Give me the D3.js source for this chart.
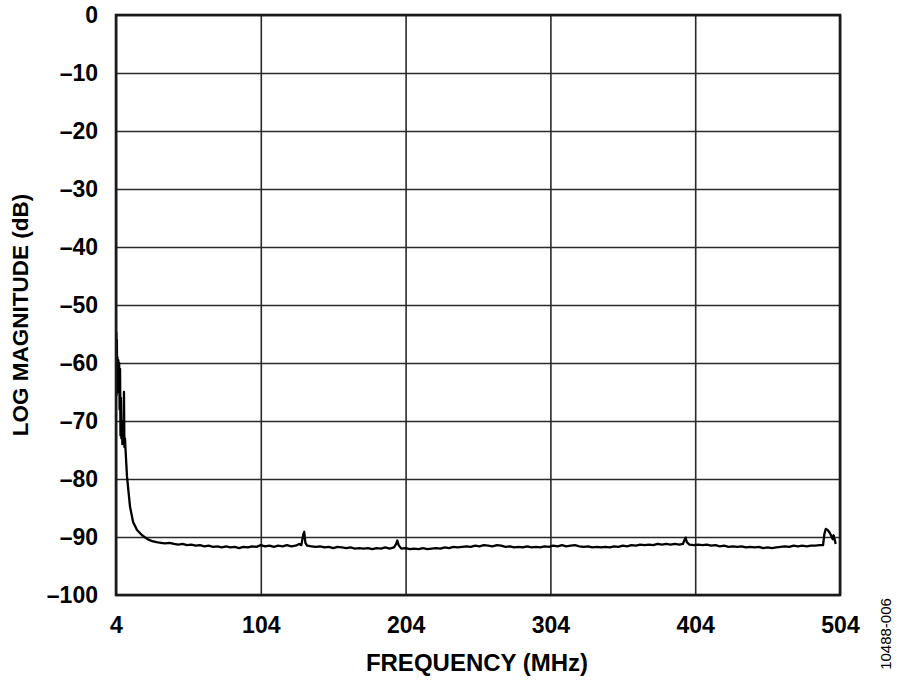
<!DOCTYPE html>
<html>
<head>
<meta charset="utf-8">
<script src="https://cdn.jsdelivr.net/npm/d3@7"></script>
<style>
  html, body { margin: 0; padding: 0; background: #fff; }
  svg text { font-family: "Liberation Sans", Arial, sans-serif; }
</style>
</head>
<body>
<svg id="chart" width="900" height="681"></svg>
<script>
// ---- data ----
const xTicks = [4, 104, 204, 304, 404, 504];
const yTicks = [0, -10, -20, -30, -40, -50, -60, -70, -80, -90, -100];

const freqMHz = [
  4.2, 4.4, 4.6, 4.8, 5.0, 5.3, 5.6, 5.9, 6.2, 6.5, 6.8, 7.1, 7.4, 7.7, 8.0, 8.4, 8.8, 9.2, 9.5, 9.8, 10.2, 10.6,
  11.6, 13.7, 15.8, 18.5, 22, 26, 29,
  32, 35, 38, 41, 44, 47, 50, 53, 56, 59, 62, 65, 68, 71, 74, 77, 80, 83, 86, 89, 92, 95, 98, 101,
  104, 107, 110, 113, 116, 119, 122, 125, 128, 130.5, 132, 133.3, 134, 134.8, 136, 139, 142, 145, 148,
  151, 154, 157, 160, 163, 166, 169, 172, 175, 178, 181, 184, 187, 190, 193, 196, 197.5, 198.3, 199.2,
  201, 204, 207, 210, 213, 216, 219, 222, 225, 228, 231, 234, 237, 240, 243, 246, 249, 252, 255, 258,
  261, 264, 267, 270, 273, 276, 279, 282, 285, 288, 291, 294, 297, 300, 303, 306, 309, 312, 315, 318,
  321, 324, 327, 330, 333, 336, 339, 342, 345, 348, 351, 354, 357, 360, 363, 366, 369, 372, 375, 378,
  381, 384, 387, 390, 393, 395.5, 396.6, 397.4, 398.2, 400, 403, 406, 409, 412, 415, 418, 421, 424, 427,
  430, 433, 436, 439, 442, 445, 448, 451, 454, 457, 460, 463, 466, 469, 472, 475, 478, 481, 484, 487,
  490, 492.3, 493.2, 494.2, 495.5, 497, 498.3, 499, 499.6, 500.2, 501
];

const magDb = [
  -54.6, -65.5, -56, -64, -59, -65, -59.5, -63, -60, -68, -61, -72.5, -66, -73, -70, -74, -71, -73.5, -65, -74.5, -73, -75,
  -79.6, -84.8, -87.4, -88.8, -89.7, -90.4, -90.7,
  -90.9, -91.0, -91.1, -91.0, -91.2, -91.3, -91.2, -91.4, -91.3, -91.5, -91.4, -91.6, -91.5, -91.7, -91.6, -91.8, -91.6, -91.8, -91.7, -91.9, -91.7, -91.8, -91.6, -91.7,
  -91.4, -91.6, -91.5, -91.7, -91.5, -91.6, -91.4, -91.6, -91.5, -91.2, -91.4, -89.6, -89.1, -91.0, -91.5, -91.6, -91.7, -91.6, -91.8,
  -91.7, -91.9, -91.7, -91.8, -91.9, -91.8, -92.0, -91.9, -92.0, -91.9, -92.1, -91.9, -92.0, -91.8, -92.0, -91.8, -91.2, -90.6, -91.4,
  -92.0, -91.9, -92.1, -92.0, -92.1, -91.9, -92.1, -92.0, -91.9, -92.0, -91.8, -91.9, -91.7, -91.8, -91.7, -91.6, -91.7, -91.5, -91.6, -91.4,
  -91.5, -91.6, -91.4, -91.5, -91.7, -91.6, -91.8, -91.7, -91.8, -91.6, -91.8, -91.7, -91.8, -91.6, -91.7, -91.5, -91.6, -91.4, -91.6, -91.5,
  -91.4, -91.6, -91.7, -91.6, -91.8, -91.7, -91.8, -91.7, -91.8, -91.6, -91.7, -91.5, -91.6, -91.4, -91.5, -91.3, -91.4, -91.3, -91.4, -91.2,
  -91.3, -91.2, -91.3, -91.2, -91.3, -91.2, -90.5, -90.1, -90.9, -91.3, -91.4, -91.3, -91.4, -91.3, -91.5, -91.4, -91.6, -91.5, -91.7,
  -91.6, -91.7, -91.6, -91.8, -91.7, -91.8, -91.7, -91.9, -91.8, -91.9, -91.8, -91.7, -91.6, -91.7, -91.5, -91.6, -91.5, -91.6, -91.5, -91.5,
  -91.4, -91.4, -89.5, -88.6, -88.8, -89.3, -90.0, -90.4, -89.7, -90.3, -91.2
];

const xLabel = "FREQUENCY (MHz)";
const yLabel = "LOG MAGNITUDE (dB)";
const figureId = "10488-006";

// ---- layout ----
const svg = d3.select("#chart");
const L = 116, R = 840, T = 15, B = 595;

const x = d3.scaleLinear().domain([4, 504]).range([L, R]);
const y = d3.scaleLinear().domain([-100, 0]).range([B, T]);

const fmtY = d => d === 0 ? "0" : "\u2013" + Math.abs(d);

// gridlines
svg.append("g")
  .attr("transform", `translate(${L},0)`)
  .call(d3.axisLeft(y).tickValues(yTicks).tickSize(-(R - L)).tickFormat(""))
  .call(g => g.select(".domain").remove())
  .call(g => g.selectAll("line").attr("stroke", "#2a2a2a").attr("stroke-width", 1.6));

svg.append("g")
  .attr("transform", `translate(0,${B})`)
  .call(d3.axisBottom(x).tickValues(xTicks).tickSize(-(B - T)).tickFormat(""))
  .call(g => g.select(".domain").remove())
  .call(g => g.selectAll("line").attr("stroke", "#2a2a2a").attr("stroke-width", 1.6));

// tick labels via axes
svg.append("g")
  .attr("transform", `translate(${L},0)`)
  .call(d3.axisLeft(y).tickValues(yTicks).tickSize(0).tickPadding(18).tickFormat(fmtY))
  .call(g => g.select(".domain").remove())
  .call(g => g.selectAll("text")
    .attr("font-size", 23).attr("font-weight", "bold").attr("fill", "#000")
    .attr("font-family", "Liberation Sans, Arial, sans-serif"));

svg.append("g")
  .attr("transform", `translate(0,${B})`)
  .call(d3.axisBottom(x).tickValues(xTicks).tickSize(0).tickPadding(22).tickFormat(d3.format("d")))
  .call(g => g.select(".domain").remove())
  .call(g => g.selectAll("text")
    .attr("font-size", 23).attr("font-weight", "bold").attr("fill", "#000")
    .attr("font-family", "Liberation Sans, Arial, sans-serif"));

// trace
const pts = freqMHz.map((f, i) => [f, magDb[i]]);
svg.append("path")
  .datum(pts)
  .attr("fill", "none")
  .attr("stroke", "#000")
  .attr("stroke-width", 2.3)
  .attr("stroke-linejoin", "round")
  .attr("d", d3.line().x(d => x(d[0])).y(d => y(d[1])));

// frame
svg.append("rect")
  .attr("x", L).attr("y", T).attr("width", R - L).attr("height", B - T)
  .attr("fill", "none").attr("stroke", "#1a1a1a").attr("stroke-width", 2.6);

// axis titles
svg.append("text")
  .attr("x", 477).attr("y", 671)
  .attr("text-anchor", "middle")
  .attr("font-size", 24).attr("font-weight", "bold")
  .text(xLabel);

svg.append("text")
  .attr("transform", `translate(28,315) rotate(-90)`)
  .attr("text-anchor", "middle")
  .attr("font-size", 22.5).attr("font-weight", "bold")
  .text(yLabel);

svg.append("text")
  .attr("transform", `translate(891,634) rotate(-90)`)
  .attr("text-anchor", "middle")
  .attr("font-size", 15)
  .text(figureId);
</script>
</body>
</html>
